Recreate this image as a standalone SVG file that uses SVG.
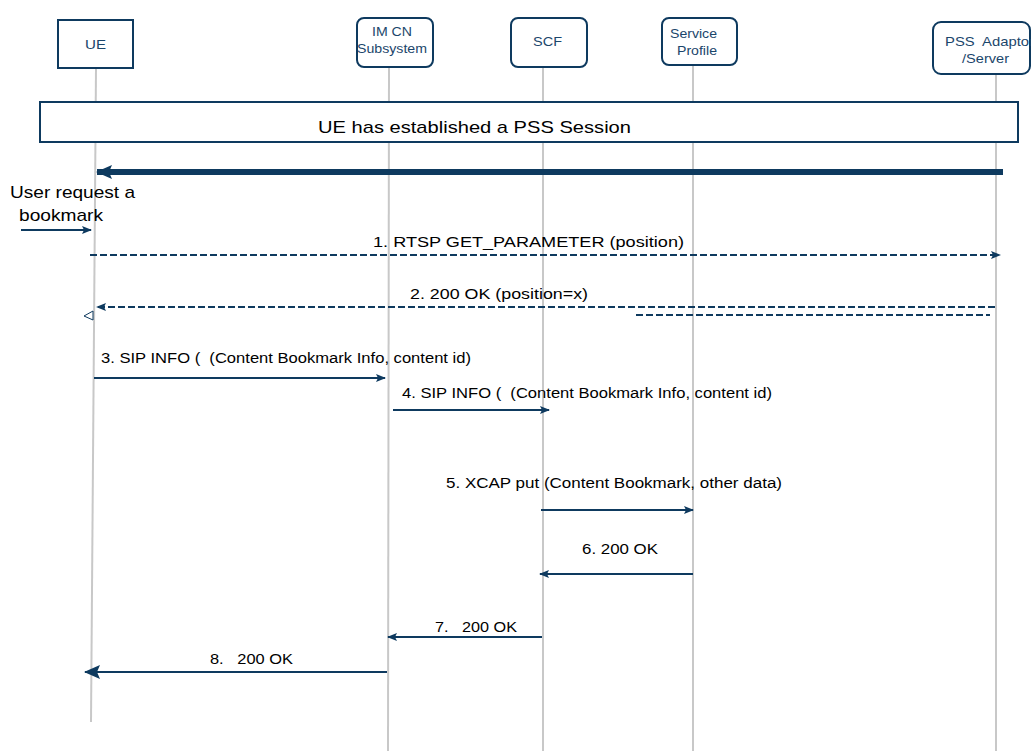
<svg xmlns="http://www.w3.org/2000/svg" width="1031" height="751" viewBox="0 0 1031 751">
<style>
.box{fill:#fff;stroke:#0e3a5f;stroke-width:2}
.nt{font-family:"Liberation Sans",Arial,sans-serif;font-size:13px;fill:#1b466b}
.life{stroke:#c8c8c8;stroke-width:2;fill:none}
.msg{stroke:#0e3a5f;stroke-width:2;fill:none}
.dash{stroke:#0e3a5f;stroke-width:2;fill:none;stroke-dasharray:7,3}
.lb{font-family:"Liberation Sans",Arial,sans-serif;font-size:14px;fill:#000}
.big{font-family:"Liberation Sans",Arial,sans-serif;font-size:17px;fill:#000}
</style>
<defs>
<marker id="ah" markerWidth="10" markerHeight="8" refX="9" refY="4" orient="auto" markerUnits="userSpaceOnUse">
<path d="M0,0 L10,4 L0,8 L2,4 Z" fill="#0e3a5f"/>
</marker>
<marker id="ahb" markerWidth="16" markerHeight="14" refX="15" refY="7" orient="auto" markerUnits="userSpaceOnUse">
<path d="M0,0 L16,7 L0,14 L3,7 Z" fill="#0e3a5f"/>
</marker>
</defs>
<g id="lifelines">
<line class="life" x1="96" y1="68" x2="91" y2="722"/>
<line class="life" x1="389" y1="67" x2="388" y2="751"/>
<line class="life" x1="543" y1="67" x2="543" y2="751"/>
<line class="life" x1="693" y1="65" x2="693" y2="751"/>
<line class="life" x1="996" y1="74" x2="996" y2="751"/>
</g>
<g id="UE">
<rect class="box" x="58" y="20" width="75" height="48"/>
<text class="nt" x="85" y="49" textLength="21" lengthAdjust="spacingAndGlyphs">UE</text>
</g>
<g id="IMCN">
<rect class="box" x="357" y="18" width="76" height="49" rx="7"/>
<text class="nt" x="372" y="36" textLength="40" lengthAdjust="spacingAndGlyphs">IM CN</text>
<text class="nt" x="357" y="53" textLength="70" lengthAdjust="spacingAndGlyphs">Subsystem</text>
</g>
<g id="SCF">
<rect class="box" x="511" y="18" width="76" height="49" rx="7"/>
<text class="nt" x="533" y="46" textLength="29" lengthAdjust="spacingAndGlyphs">SCF</text>
</g>
<g id="ServiceProfile">
<rect class="box" x="662" y="18" width="75" height="47" rx="7"/>
<text class="nt" x="670" y="38" textLength="47" lengthAdjust="spacingAndGlyphs">Service</text>
<text class="nt" x="677" y="55" textLength="40" lengthAdjust="spacingAndGlyphs">Profile</text>
</g>
<g id="PSS">
<rect class="box" x="933" y="22" width="97" height="52" rx="8"/>
<text class="nt" x="945" y="46" textLength="89" lengthAdjust="spacingAndGlyphs" xml:space="preserve">PSS  Adaptor</text>
<text class="nt" x="962" y="63" textLength="47" lengthAdjust="spacingAndGlyphs">/Server</text>
</g>
<g id="session">
<rect class="box" x="40" y="102" width="978" height="40" stroke-width="1.5"/>
<text class="big" x="318" y="133" textLength="313" lengthAdjust="spacingAndGlyphs">UE has established a PSS Session</text>
</g>
<g id="connectors">
<line x1="1003" y1="172" x2="97" y2="172" stroke="#0e3a5f" stroke-width="6" marker-end="url(#ahb)"/>
<line class="msg" x1="21" y1="230" x2="91" y2="230" marker-end="url(#ah)"/>
<line class="dash" x1="90" y1="255" x2="1000" y2="255" marker-end="url(#ah)"/>
<line class="dash" x1="995" y1="307" x2="97" y2="307" marker-end="url(#ah)"/>
<path d="M93,311 L84,316 L93,320 Z" fill="#fff" stroke="#0e3a5f" stroke-width="1"/>
<line class="dash" x1="636" y1="315" x2="990" y2="315" stroke-width="1.5" stroke-dasharray="6,2"/>
<line class="msg" x1="94" y1="378" x2="385" y2="378" marker-end="url(#ah)"/>
<line class="msg" x1="393" y1="410" x2="549" y2="410" marker-end="url(#ah)"/>
<line class="msg" x1="541" y1="510" x2="693" y2="510" marker-end="url(#ah)"/>
<line class="msg" x1="693" y1="574" x2="540" y2="574" marker-end="url(#ah)"/>
<line class="msg" x1="542" y1="637" x2="388" y2="637" marker-end="url(#ah)"/>
<line class="msg" x1="387" y1="672" x2="85" y2="672" marker-end="url(#ahb)"/>
</g>
<g id="labels">
<text class="big" x="10" y="198" textLength="125" lengthAdjust="spacingAndGlyphs">User request a</text>
<text class="big" x="19" y="221" textLength="84" lengthAdjust="spacingAndGlyphs">bookmark</text>
<text class="lb" x="373" y="247" textLength="311" lengthAdjust="spacingAndGlyphs">1. RTSP GET_PARAMETER (position)</text>
<text class="lb" x="410" y="299" textLength="178" lengthAdjust="spacingAndGlyphs">2. 200 OK (position=x)</text>
<text class="lb" x="101" y="363" textLength="370" lengthAdjust="spacingAndGlyphs" xml:space="preserve">3. SIP INFO (  (Content Bookmark Info, content id)</text>
<text class="lb" x="402" y="398" textLength="370" lengthAdjust="spacingAndGlyphs" xml:space="preserve">4. SIP INFO (  (Content Bookmark Info, content id)</text>
<text class="lb" x="446" y="488" textLength="336" lengthAdjust="spacingAndGlyphs">5. XCAP put (Content Bookmark, other data)</text>
<text class="lb" x="582" y="554" textLength="76" lengthAdjust="spacingAndGlyphs">6. 200 OK</text>
<text class="lb" x="435" y="632" textLength="82" lengthAdjust="spacingAndGlyphs" xml:space="preserve">7.   200 OK</text>
<text class="lb" x="210" y="664" textLength="83" lengthAdjust="spacingAndGlyphs" xml:space="preserve">8.   200 OK</text>
</g>
</svg>
